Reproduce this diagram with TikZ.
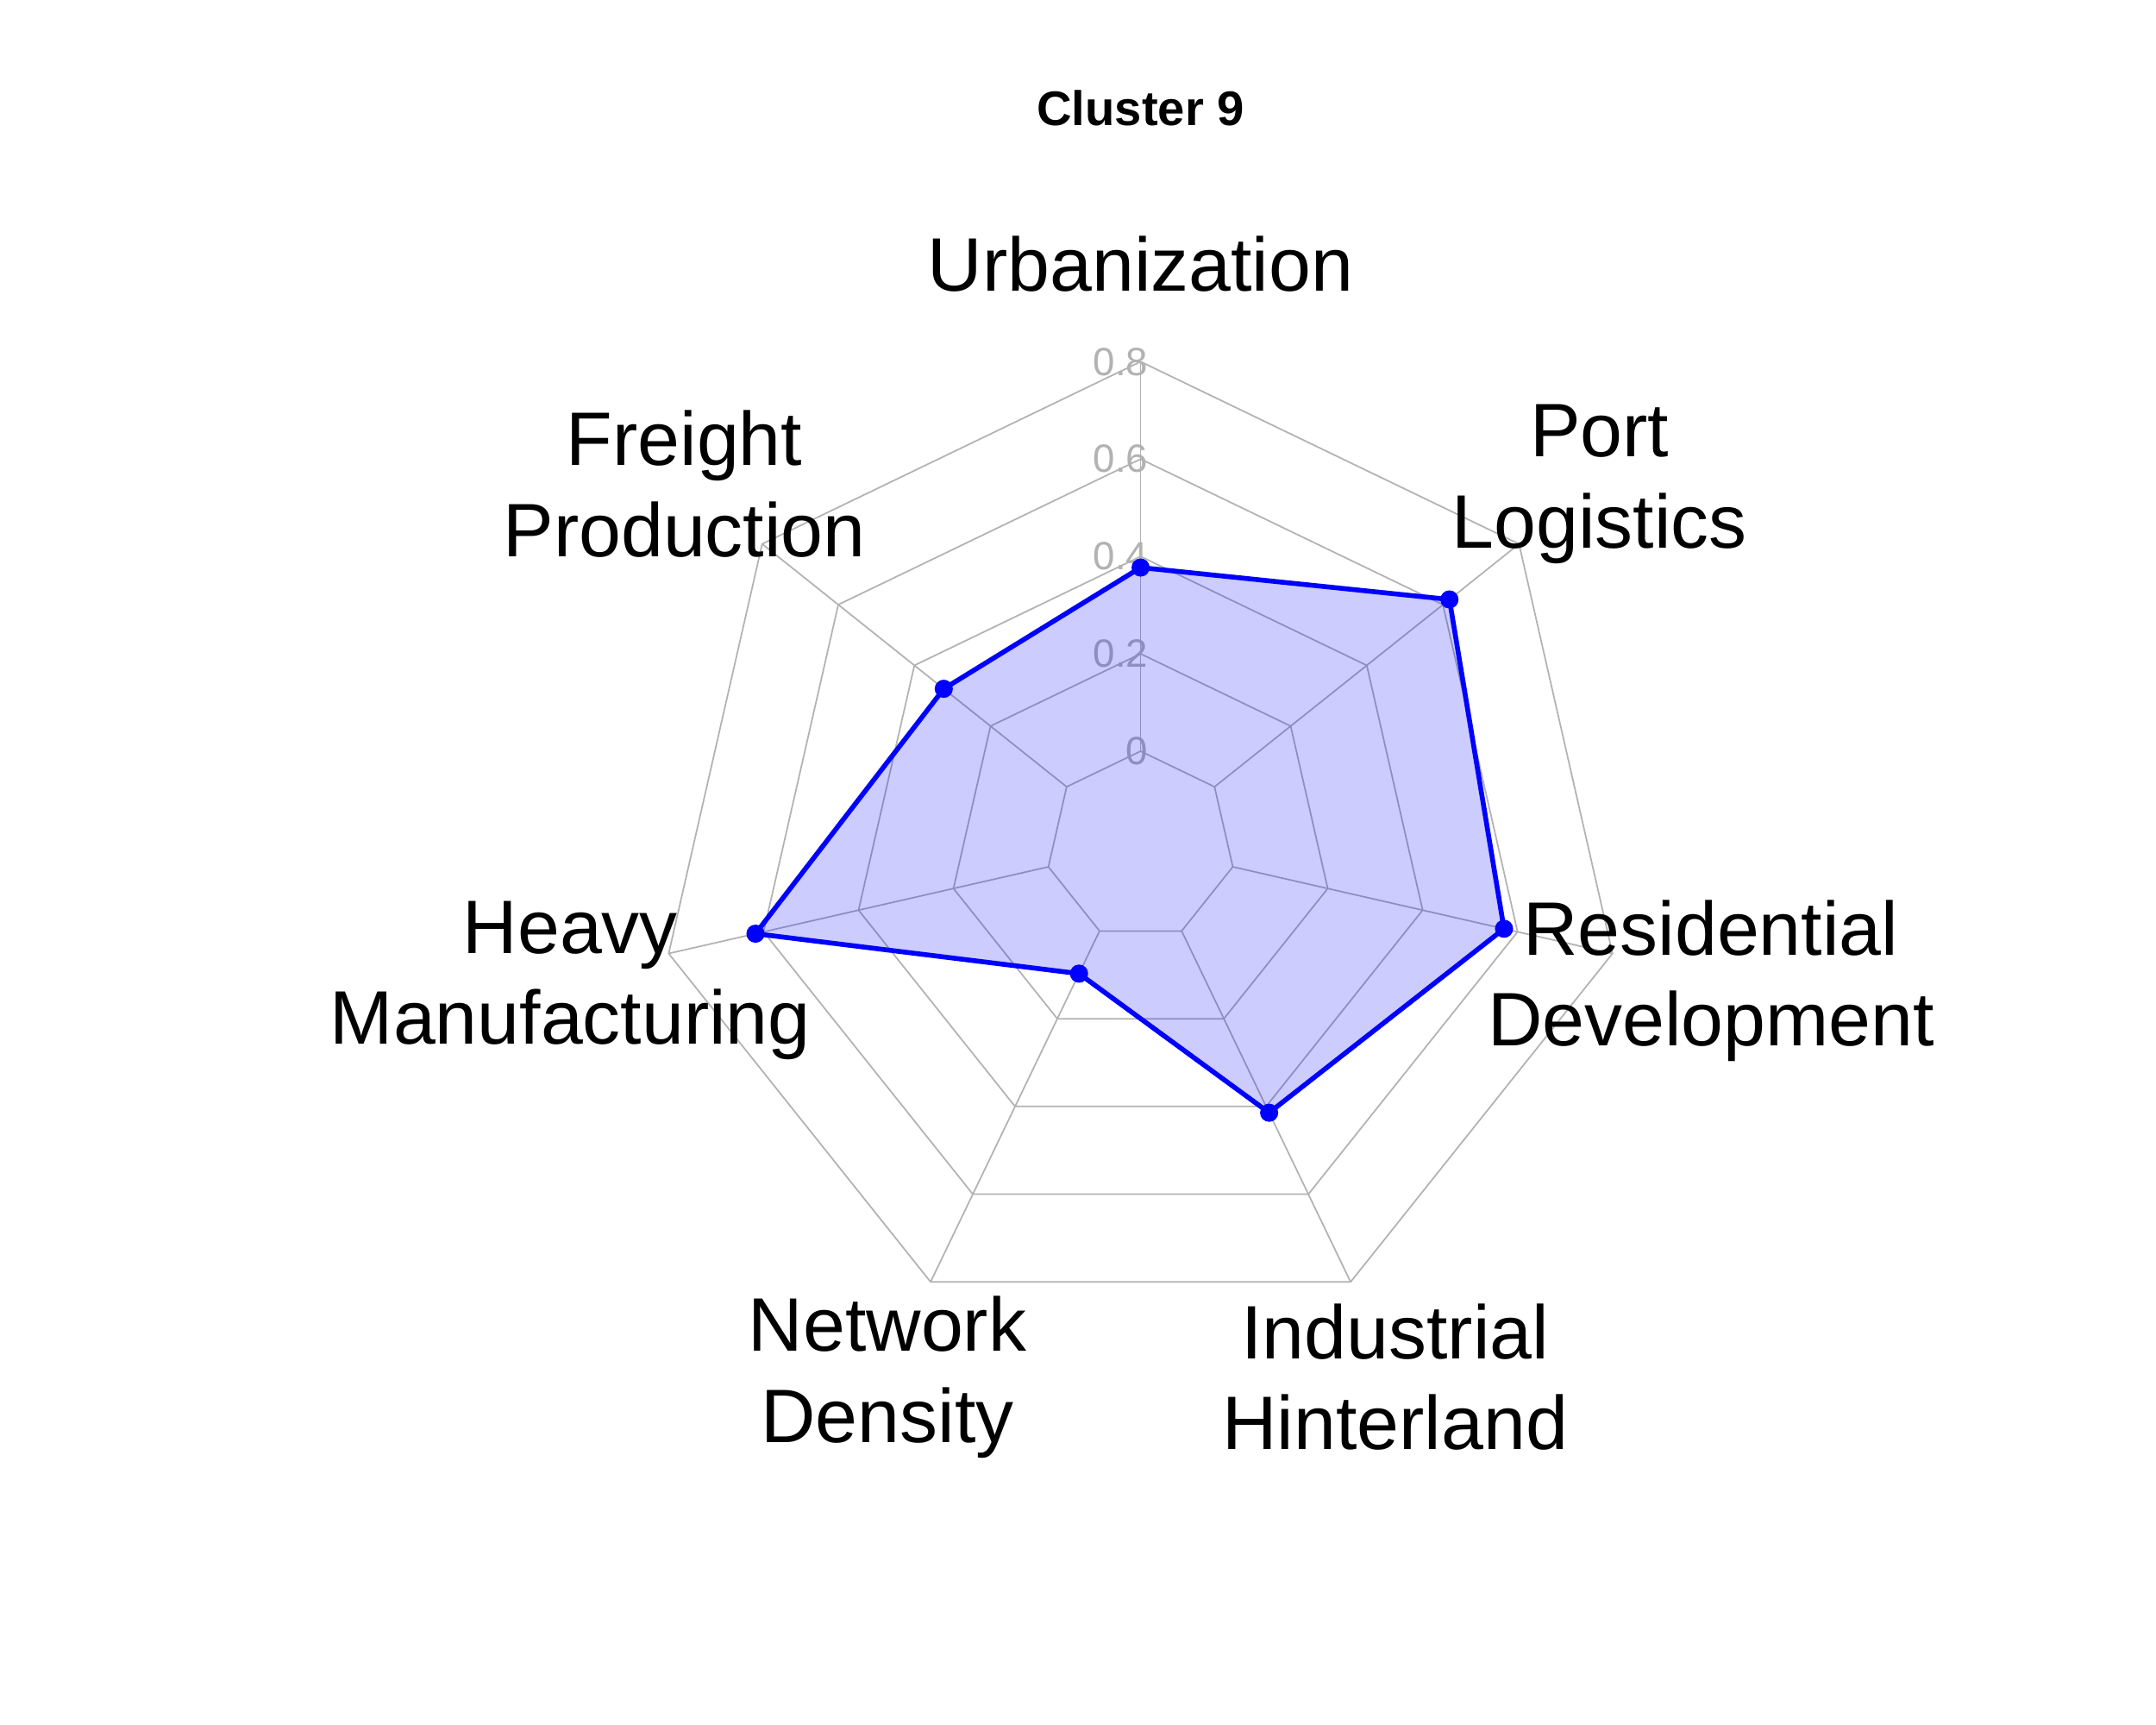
\documentclass[tikz,border=0pt]{standalone}
\usepackage{fontspec}
\setmainfont{Liberation Sans}
\usetikzlibrary{positioning,calc}
\tikzstyle{grid_line}=[draw=gray!60, line width=0.5pt]
\tikzstyle{axis_label}=[font=\fontsize{25}{30}\selectfont, align=center]
\tikzstyle{data_point}=[circle, fill=blue, inner sep=0pt, minimum size=6pt]
\begin{document}
\begin{tikzpicture}[x=0.01613cm, y=0.01613cm]
          \useasboundingbox (0,0) rectangle (1550,1240);
          \coordinate (ctr) at (820,632);
          \node[font=\bfseries\fontsize{16}{19}\selectfont] (title) at (820,1162){Cluster 9};
          % grid
          \foreach \lv in {0,1,2,3,4}{
            \pgfmathsetmacro{\rr}{68+70*\lv}
            \draw[grid_line] ($(ctr)+(90:\rr)$) \foreach \k in {1,...,6}{ -- ($(ctr)+(90-\k*360/7:\rr)$)} -- cycle;
          }
          \foreach \k in {0,...,6}
            \draw[grid_line] ($(ctr)+(90-\k*360/7:68)$) -- ($(ctr)+(90-\k*360/7:348)$);
          \foreach \lv/\txt in {0/0,1/0.2,2/0.4,3/0.6,4/0.8}
            \node[text=gray!60, font=\fontsize{13}{15}\selectfont, anchor=east, inner sep=1pt] (lev\lv) at ($(ctr)+(0,68+70*\lv)+(8,0)$){\txt};
          % data
          \coordinate (p1) at ($(ctr)+(90:200)$);
          \coordinate (p2) at ($(ctr)+(90-1*360/7:284)$);
          \coordinate (p3) at ($(ctr)+(90-2*360/7:268)$);
          \coordinate (p4) at ($(ctr)+(90-3*360/7:213)$);
          \coordinate (p5) at ($(ctr)+(90-4*360/7:102)$);
          \coordinate (p6) at ($(ctr)+(90-5*360/7:284)$);
          \coordinate (p7) at ($(ctr)+(90-6*360/7:181)$);
          \fill[blue, fill opacity=0.2] (p1) -- (p2) -- (p3) -- (p4) -- (p5) -- (p6) -- (p7) -- cycle;
          \draw[blue, line width=1.6pt, line join=round] (p1) -- (p2) -- (p3) -- (p4) -- (p5) -- (p6) -- (p7) -- cycle;
          \foreach \k in {1,...,7}
            \node[data_point] (dot\k) at (p\k){};
          % labels
          \node[axis_label] (urb) at (820,1050){Urbanization};
          \node[axis_label] (port) at (1150,892){Port\\Logistics};
          \node[axis_label] (res) at (1230,535){Residential\\Development};
          \node[axis_label] (ind) at (1003,250){Industrial\\Hinterland};
          \node[axis_label] (net) at (638,250){Network\\Density};
          \node[axis_label] (heavy) at (410,535){Heavy\\Manufacturing};
          \node[axis_label] (freight) at (492,892){Freight\\Production};
        \end{tikzpicture}
\end{document}
